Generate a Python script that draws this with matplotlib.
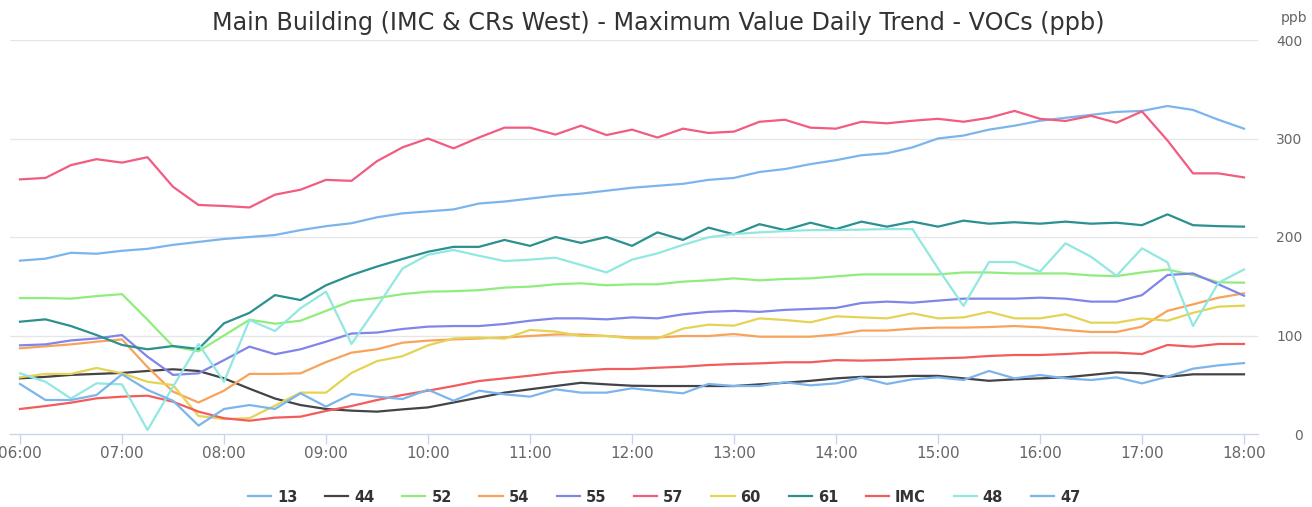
import matplotlib
matplotlib.use("Agg")
import matplotlib.pyplot as plt
import numpy as np

# time axis: every 15 minutes from 06:00 to 18:00
times = [f"{6 + i // 4:02d}:{(i % 4) * 15:02d}" for i in range(49)]
hour_labels = [f"{h:02d}:00" for h in range(6, 19)]

s13 = [176, 178, 184, 183, 186, 188, 192, 195, 198, 200, 202, 207, 211, 214, 220, 224, 226,
       228, 234, 236, 239, 242, 244, 247, 250, 252, 254, 258, 260, 266, 269, 274, 278, 283,
       285, 291, 300, 303, 309, 313, 318, 321, 324, 327, 328, 333, 329, 319, 310]
s44 = [56.5, 58, 60, 61, 62, 64, 65.7, 64, 56.5, 46, 36, 29.4, 25.4, 23.7, 22.7, 25, 27,
       32, 37, 42, 45.4, 48.7, 52, 50.4, 49, 48.7, 48.7, 48.7, 48.7, 50.4, 52, 54, 56.5, 58,
       58, 59, 59, 56.5, 54, 55.5, 56.5, 57.5, 60, 62.6, 61.6, 58, 60.6, 60.6, 60.6]
s52 = [138, 138, 137.4, 140, 142, 116, 89, 84, 100, 116, 112, 115, 125, 135, 138, 142, 144.5,
       145, 146, 148.6, 149.6, 152, 153, 151, 152, 152, 154.7, 156, 158, 156, 157.4, 158, 160, 162,
       162, 162, 162, 164, 164, 163, 163, 163, 161, 160.3, 164, 167, 161.4, 154, 153.6]
s54 = [87, 89, 91, 93.7, 96, 68, 43, 32, 44, 61, 61, 61.6, 73, 82.6, 86, 92.7, 94.8,
       96, 97, 98, 99.5, 101, 101, 99.5, 98, 98, 99.5, 99.5, 101.5, 98.8, 98.8, 98.8, 101, 105,
       105, 107, 108, 108, 108.6, 109.6, 108.3, 105.6, 103.6, 103.6, 109, 125, 131.6, 138.4, 142.8]
s55 = [90, 91, 95, 97, 100.5, 78.5, 60, 61.6, 75, 88.7, 81, 86, 93.7, 102, 103, 106.6, 109,
       109.6, 109.6, 111.7, 115, 117.4, 117.4, 116.4, 118.4, 117.4, 121.5, 124, 125, 124, 126, 127, 128, 133,
       134.4, 133.3, 135.4, 137.4, 137.4, 137.4, 138.4, 137.4, 134.4, 134.4, 141, 161.4, 163, 152, 140.4]
s57 = [258.5, 260, 273, 279, 275.5, 281, 251, 232.5, 231.5, 230, 243, 248, 258, 257, 277, 291, 300,
       290, 301, 311, 311, 304, 313, 303.5, 309, 301, 310, 305.6, 307, 317, 319, 311, 310, 317,
       315.4, 318, 320, 317, 321, 328, 320, 317.8, 323, 316, 327.5, 298, 264.6, 264.6, 260.5]
s60 = [57.5, 61, 61, 67, 61.6, 53, 49.7, 18.3, 15.2, 16, 28.8, 42, 42, 62, 74, 79, 90,
       97, 98, 96.8, 105.6, 104, 99.5, 99.5, 97, 97, 107, 111, 110, 117.4, 115.7, 113.4, 119.5, 118.4,
       117.4, 122.5, 117.4, 118.4, 124, 117.4, 117.4, 121.5, 113, 113, 117.4, 115, 123, 129.3, 130.3]
s61 = [114, 116.4, 109.6, 100.5, 90.4, 86, 89.3, 86.3, 112.4, 123, 141, 136, 151, 161.4, 170, 177.7, 185,
       190, 190, 197, 191, 200, 194, 200, 191, 204.7, 197, 209.5, 202.7, 213, 207, 214.5, 208, 215.6,
       210.5, 215.6, 210.5, 216.6, 213.5, 215, 213.5, 215.6, 213.5, 214.5, 212, 223, 212, 211, 210.5]
s_imc = [25.4, 28.4, 31.8, 36.2, 37.9, 38.9, 32.8, 22.7, 16, 13.5, 16.6, 17.6, 23.4, 28.4, 34.5, 39.6, 44,
         48.7, 53.8, 56.5, 59.2, 62.3, 64.3, 66, 66, 67.3, 68.3, 70, 71, 71.7, 72.8, 72.8, 75, 74.5,
         75.1, 76.1, 76.8, 77.5, 79.2, 80.2, 80.2, 81.2, 82.6, 82.6, 81.2, 90.4, 88.7, 91.4, 91.4]
s48 = [61.6, 53, 36, 51.4, 50.4, 4, 48, 91.4, 53, 115.7, 104.6, 127.6, 144.5, 91.4, 129, 168, 182,
       186.8, 181, 175.6, 177, 179, 171.6, 164, 177, 183.4, 192, 199.7, 203, 204.7, 206, 207, 207, 207.5,
       208, 208, 168, 130, 174.6, 174.6, 164.8, 193.6, 180, 160.7, 188.5, 174.3, 109.6, 153.6, 167]
s47 = [50.8, 34.5, 34.5, 39.6, 60.6, 44.7, 33.8, 8.5, 25.4, 29.4, 25.4, 41.3, 27.8, 40.6, 37.9, 35.5, 45,
       33.8, 44, 40.3, 37.9, 45.4, 42, 42, 46.4, 43.7, 41.3, 50.8, 48.7, 48.7, 52.5, 49.4, 51.4, 57.2,
       50.8, 55.5, 57.5, 54.8, 64, 56.5, 59.9, 56.5, 54.8, 57.5, 51.4, 58.2, 66.3, 69.7, 72]

series_names = ["13", "44", "52", "54", "55", "57", "60", "61", "IMC", "48", "47"]
series_values = [s13, s44, s52, s54, s55, s57, s60, s61, s_imc, s48, s47]
colors = ["#7cb5ec", "#434348", "#90ed7d", "#f7a35c", "#8085e9", "#f15c80",
          "#e4d354", "#2b908f", "#f45b5b", "#91e8e1", "#7cb5ec"]


def main():
    W, H = 1312, 507
    fig = plt.figure(figsize=(W / 100, H / 100), dpi=100)
    # plot area in pixels: x 10..1258, y 40..434
    ax = fig.add_axes([10 / W, (H - 434) / H, 1248 / W, 394 / H])

    x = np.arange(len(times))
    for name, vals, col in zip(series_names, series_values, colors):
        ax.plot(x, vals, color=col, linewidth=1.6, label=name, solid_joinstyle="round")

    ax.set_xlim(-10 / 25.5, (1258 - 20) / 25.5)
    ax.set_ylim(0, 400)

    for side in ["top", "left", "right"]:
        ax.spines[side].set_visible(False)
    ax.spines["bottom"].set_color("#ccd6eb")
    ax.spines["bottom"].set_linewidth(1)

    ax.set_xticks(np.arange(0, 49, 4))
    ax.set_xticklabels(hour_labels)
    ax.tick_params(axis="x", colors="#ccd6eb", length=7, width=1, labelcolor="#666666",
                   labelsize=11, pad=2)

    ax.yaxis.tick_right()
    ax.set_yticks([0, 100, 200, 300, 400])
    ax.tick_params(axis="y", length=0, labelcolor="#666666", labelsize=10, pad=32)
    for lab in ax.get_yticklabels():
        lab.set_horizontalalignment("right")
    ax.set_axisbelow(True)
    for v in [100, 200, 300, 400]:
        ax.axhline(v, color="#e6e6e6", linewidth=1, zorder=0)

    fig.text(658 / W, 1 - 23 / H, "Main Building (IMC & CRs West) - Maximum Value Daily Trend - VOCs (ppb)",
             ha="center", va="center", fontsize=17.2, color="#333333")
    fig.text(1294 / W, 1 - 18 / H, "ppb", ha="center", va="center", fontsize=10, color="#666666")

    leg = fig.legend(loc="center", bbox_to_anchor=(664 / W, 1 - 497 / H), ncol=11, frameon=False,
                     handlelength=1.6, handletextpad=0.4, columnspacing=1.9,
                     prop={"weight": "bold", "size": 10.5})
    for t in leg.get_texts():
        t.set_color("#333333")

    fig.savefig("out.png", dpi=100)
    plt.close(fig)


if __name__ == "__main__":
    main()
